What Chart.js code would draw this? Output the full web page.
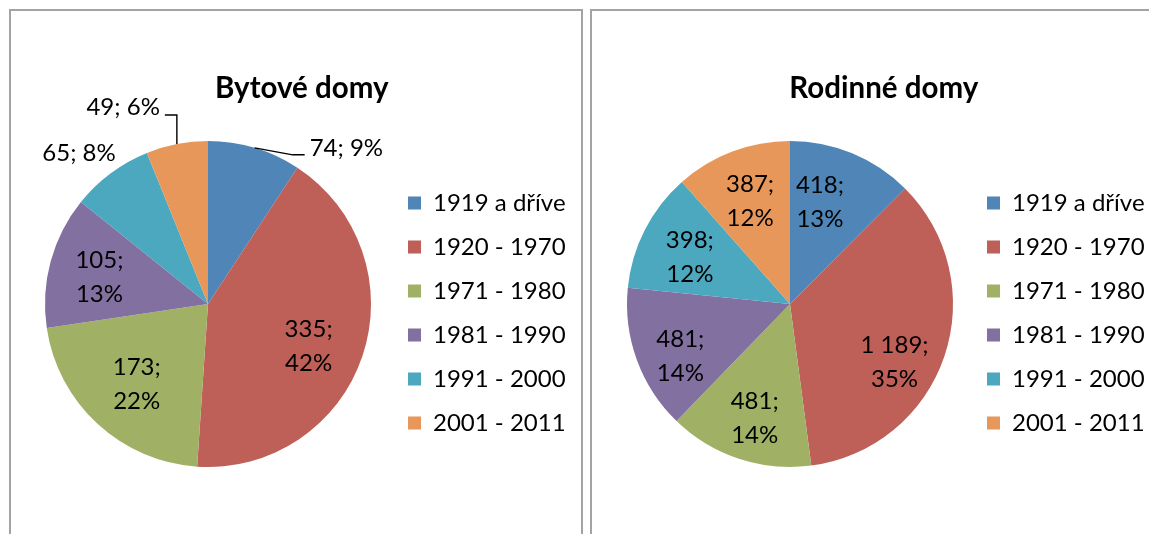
<!DOCTYPE html>
<html><head><meta charset="utf-8">
<script src="https://cdn.jsdelivr.net/npm/chart.js@4.4.1/dist/chart.umd.min.js"></script>
<style>
html,body{margin:0;padding:0;width:1149px;height:534px;overflow:hidden;background:#fff;}
.panel{position:absolute;top:9px;height:600px;border:2px solid #a3a3a3;box-sizing:border-box;}
canvas{position:absolute;}
</style></head><body>
<div class="panel" style="left:9px;width:574px"></div>
<div class="panel" style="left:590px;width:640px"></div>
<canvas id="c1"></canvas><canvas id="c2"></canvas>
<script>
// ---- data ----
const categories = ['1919 a dříve', '1920 - 1970', '1971 - 1980', '1981 - 1990', '1991 - 2000', '2001 - 2011'];
const bytoveValues = [74, 335, 173, 105, 65, 49];
const bytovePercent = [9, 42, 22, 13, 8, 6];
const rodinneValues = [418, 1189, 481, 481, 398, 387];
const rodinnePercent = [13, 35, 14, 14, 12, 12];
const chartTitles = ['Bytové domy', 'Rodinné domy'];

// ---- style ----
const colors = ['#4F86B7', '#BE5F58', '#A0B166', '#8270A0', '#4BA8BF', '#E8975A'];
const FONT = 'Lato, "Open Sans", sans-serif';
const LEG_SIZE = 24, LEG_PAD = 20, BOX = 13;
const LABEL_SIZE = 24;
const TITLE_SIZE = 29.5;

const fmt = v => String(v).replace(/\B(?=(\d{3})+(?!\d))/g, ' ');

function legendWidth(labels) {
  const c = document.createElement('canvas').getContext('2d');
  c.font = LEG_SIZE + 'px ' + FONT;
  const tw = Math.max(...labels.map(t => c.measureText(t).width));
  return LEG_PAD + BOX + LEG_SIZE / 2 + tw + 10;
}

const pieLabels = {
  id: 'pieLabels',
  afterDatasetsDraw(chart, args, o) {
    const ctx = chart.ctx;
    const ds = chart.data.datasets[0];
    const meta = chart.getDatasetMeta(0);
    ctx.save();
    ctx.font = o.size + 'px ' + FONT;
    ctx.fillStyle = '#000';
    ctx.strokeStyle = '#000';
    ctx.lineWidth = 1.4;
    ctx.textBaseline = 'middle';
    meta.data.forEach((arc, i) => {
      const p = arc.getProps(['x', 'y', 'startAngle', 'endAngle', 'outerRadius'], true);
      const mid = (p.startAngle + p.endAngle) / 2;
      const cos = Math.cos(mid), sin = Math.sin(mid);
      const val = ds.data[i], pct = o.percent[i];
      const out = o.outside && o.outside[i];
      if (out) {
        const ex = p.x + cos * p.outerRadius, ey = p.y + sin * p.outerRadius;
        if (out.leader) {
          ctx.beginPath(); ctx.moveTo(ex, ey);
          out.leader.forEach(([dx, dy]) => ctx.lineTo(ex + dx, ey + dy));
          ctx.stroke();
        }
        ctx.textAlign = out.align;
        ctx.fillText(fmt(val) + '; ' + pct + '%', ex + out.dx, ey + out.dy);
      } else {
        const r = p.outerRadius * o.inside;
        const nd = (o.nudge && o.nudge[i]) || [0, 0];
        const cx = p.x + cos * r + nd[0], cy = p.y + sin * r + nd[1] + o.shiftY;
        ctx.textAlign = 'center';
        ctx.fillText(fmt(val) + ';', cx, cy - o.lineGap / 2);
        ctx.fillText(pct + '%', cx, cy + o.lineGap / 2);
      }
    });
    ctx.restore();
  }
};

function makeChart(id, values, percent, title, spec) {
  const L = legendWidth(categories);
  const legendLeft = spec.squareX - LEG_PAD;
  const padL = 2 * spec.pieCX - legendLeft - spec.x0;
  const padR = spec.x0 + spec.w - legendLeft - L;
  const titleLH = TITLE_SIZE * 1.2;
  const titlePadTop = spec.titleCY - spec.y0 - titleLH / 2;
  const titlePadBottom = 10;
  const T = spec.y0 + titlePadTop + titleLH + titlePadBottom;
  const B = 2 * spec.pieCY - T;
  const padB = spec.y0 + spec.h - B;
  const itemH = Math.max(LEG_SIZE, BOX);
  const colH = 6 * (itemH + LEG_PAD);
  const cursorY = spec.legendFirstCY - itemH / 2;
  const tH = 2 * cursorY - T - B - LEG_PAD + colH;

  const cv = document.getElementById(id);
  cv.width = spec.w; cv.height = spec.h;
  cv.style.left = spec.x0 + 'px'; cv.style.top = spec.y0 + 'px';

  return new Chart(cv, {
    type: 'pie',
    data: {
      labels: categories,
      datasets: [{ data: values, backgroundColor: colors, borderWidth: 0, radius: spec.r }]
    },
    options: {
      responsive: false,
      animation: false,
      devicePixelRatio: 1,
      events: [],
      layout: { padding: { left: padL, right: padR, top: 0, bottom: padB } },
      plugins: {
        tooltip: { enabled: false },
        title: {
          display: true, text: title, color: '#000',
          font: { family: FONT, size: TITLE_SIZE, weight: 'bold', lineHeight: 1.2 },
          padding: { top: titlePadTop, bottom: titlePadBottom }
        },
        legend: {
          position: 'right',
          fullSize: false,
          title: { display: true, text: '', font: { size: Math.max(tH, 0.1) / 1.2, lineHeight: 1.2 }, padding: 0 },
          labels: {
            color: '#000', boxWidth: BOX, boxHeight: BOX, padding: LEG_PAD,
            font: { family: FONT, size: LEG_SIZE }
          }
        },
        pieLabels: {
          percent: percent, size: LABEL_SIZE, inside: 0.69, lineGap: 34, shiftY: 3,
          nudge: spec.nudge || null,
          outside: spec.outside || null
        }
      }
    },
    plugins: [pieLabels]
  });
}

makeChart('c1', bytoveValues, bytovePercent, chartTitles[0], {
  x0: 11, y0: 11, w: 570, h: 523, squareX: 408, pieCX: 208, pieCY: 304, r: 163,
  titleCY: 88, legendFirstCY: 203,
  nudge: { 1: [-6, 4], 2: [5, -5], 3: [0, 0] },
  outside: {
    0: { leader: [[38, 7], [50, 7]], dx: 55, dy: 0, align: 'left' },
    4: { dx: 5, dy: -20, align: 'right' },
    5: { leader: [[0, -29], [-12, -29]], dx: -17, dy: -37, align: 'right' }
  }
});
makeChart('c2', rodinneValues, rodinnePercent, chartTitles[1], {
  x0: 592, y0: 11, w: 620, h: 523, squareX: 987, pieCX: 790, pieCY: 304, r: 163,
  titleCY: 88, legendFirstCY: 203,
  nudge: { 0: [-13, -1], 1: [-2, 19], 2: [0, 4], 3: [-4, 11], 4: [0, 2], 5: [0, -1] }
});
</script>
</body></html>
